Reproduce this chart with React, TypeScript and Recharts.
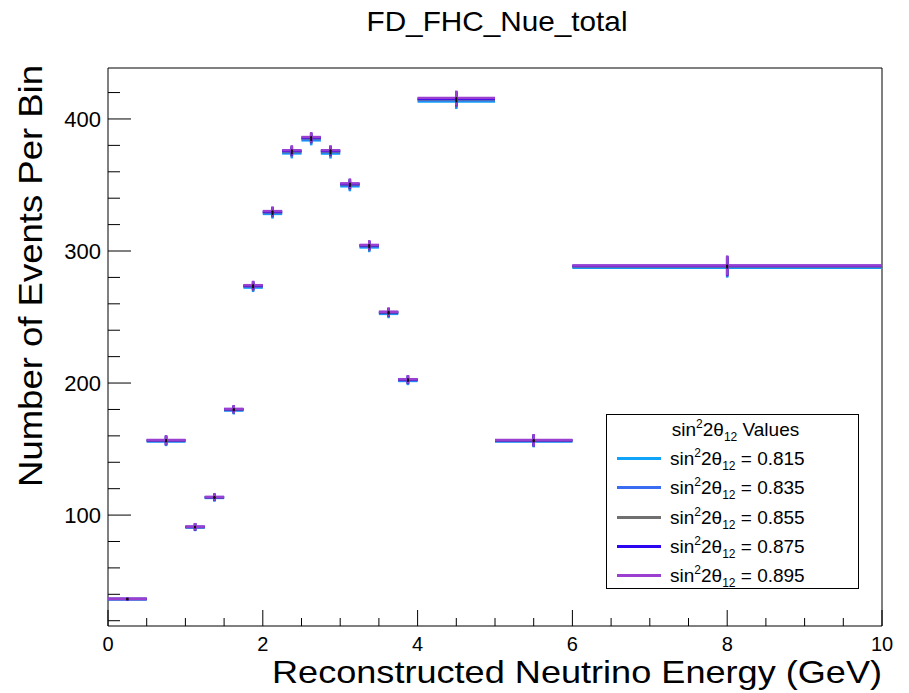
import { ComposedChart, Scatter, ErrorBar, XAxis, YAxis, ReferenceArea } from "recharts";

const FONT = "'Liberation Sans', Arial, Helvetica, sans-serif";

const BIN_EDGES = [0, 0.5, 1, 1.25, 1.5, 1.75, 2, 2.25, 2.5, 2.75, 3, 3.25, 3.5, 3.75, 4, 5, 6, 10];

const VALUES_0815 = [36.3, 155.8, 90.6, 113.0, 179.2, 272.3, 328.1, 373.9, 383.8, 373.8, 349.0, 302.7, 252.4, 201.6, 413.2, 155.8, 287.3];
const VALUES_0835 = [36.4, 156.1, 90.8, 113.2, 179.6, 272.9, 328.8, 374.7, 384.6, 374.7, 349.8, 303.4, 253.0, 202.0, 414.1, 156.1, 287.9];
const VALUES_0855 = [36.5, 156.5, 91.0, 113.5, 180.0, 273.5, 329.5, 375.5, 385.5, 375.5, 350.5, 304.0, 253.5, 202.5, 415.0, 156.5, 288.5];
const VALUES_0875 = [36.5, 156.7, 91.1, 113.6, 180.2, 273.8, 329.8, 375.9, 385.9, 375.9, 350.8, 304.3, 253.7, 202.7, 415.4, 156.7, 288.8];
const VALUES_0895 = [36.6, 156.8, 91.2, 113.7, 180.4, 274.1, 330.2, 376.3, 386.3, 376.3, 351.2, 304.6, 254.0, 202.9, 415.8, 156.9, 289.1];

const ERRORS = [1.2, 3.6, 2.8, 2.8, 3.0, 3.4, 3.6, 3.8, 3.8, 3.8, 3.8, 3.6, 3.3, 3.2, 5.7, 4.5, 7.5];

const SERIES_NAMES = ["0.815", "0.835", "0.855", "0.875", "0.895"];
const SERIES_VALUES = [VALUES_0815, VALUES_0835, VALUES_0855, VALUES_0875, VALUES_0895];
const SERIES_COLORS = ["#10a4f8", "#3a6cf2", "#6f6f6f", "#2c06f0", "#9a3fd0"];

const X_TICKS = [0, 0.5, 1, 1.5, 2, 2.5, 3, 3.5, 4, 4.5, 5, 5.5, 6, 6.5, 7, 7.5, 8, 8.5, 9, 9.5, 10];
const Y_TICKS = [20, 40, 60, 80, 100, 120, 140, 160, 180, 200, 220, 240, 260, 280, 300, 320, 340, 360, 380, 400, 420];
const Y_MIN = 16;
const Y_MAX = 438.6;

function binData(values: number[]) {
  return values.map((v, i) => ({
    x: (BIN_EDGES[i] + BIN_EDGES[i + 1]) / 2,
    y: v,
    ex: (BIN_EDGES[i + 1] - BIN_EDGES[i]) / 2,
    ey: ERRORS[i],
  }));
}

function XTick(props: any) {
  const { x, y, payload } = props;
  const major = payload.value % 2 === 0;
  return (
    <g>
      <line x1={x} y1={y} x2={x} y2={y - (major ? 16 : 8)} stroke="#000" strokeWidth={1} />
      {major && (
        <text x={x} y={y + 25} textAnchor="middle" fontSize={20} fontFamily={FONT} fill="#000">{payload.value}</text>
      )}
    </g>
  );
}

function YTick(props: any) {
  const { x, y, payload } = props;
  const major = payload.value % 100 === 0;
  return (
    <g>
      <line x1={x} y1={y} x2={x + (major ? 23 : 12)} y2={y} stroke="#000" strokeWidth={1} />
      {major && (
        <text x={x - 7} y={y + 8} textAnchor="end" fontSize={22} fontFamily={FONT} fill="#000">{payload.value}</text>
      )}
    </g>
  );
}

function SinLabel({ value }: { value?: string }) {
  return (
    <span>
      sin<span style={{ fontSize: 12, position: "relative", top: -8 }}>2</span>2θ
      <span style={{ fontSize: 12, position: "relative", top: 5 }}>12</span>
      {value ? ` = ${value}` : " Values"}
    </span>
  );
}

export default function App() {
  return (
    <div style={{ position: "absolute", left: 0, top: 0, width: 909, height: 693, background: "#fff", fontFamily: FONT }}>
      <ComposedChart width={909} height={693} margin={{ top: 68, right: 27, bottom: 66, left: 107 }}>
        <XAxis dataKey="x" type="number" domain={[0, 10]} allowDataOverflow ticks={X_TICKS} interval={0}
          height={1} tickSize={0} tickMargin={0} tickLine={false} axisLine={false} tick={<XTick />} />
        <YAxis dataKey="y" type="number" domain={[Y_MIN, Y_MAX]} allowDataOverflow ticks={Y_TICKS} interval={0}
          width={1} tickSize={0} tickMargin={0} tickLine={false} axisLine={false} tick={<YTick />} />
        <ReferenceArea x1={0} x2={10} y1={Y_MIN} y2={Y_MAX} fill="none" stroke="#000" strokeWidth={1} ifOverflow="visible" />
        {SERIES_VALUES.map((vals, i) => (
          <Scatter key={SERIES_NAMES[i]} data={binData(vals)} isAnimationActive={false}
            shape={(p: any) => <circle cx={p.cx} cy={p.cy} r={1} fill="#111" />}>
            <ErrorBar dataKey="ex" direction="x" width={0} stroke={SERIES_COLORS[i]} strokeWidth={2.5} isAnimationActive={false} />
            <ErrorBar dataKey="ey" direction="y" width={0} stroke={SERIES_COLORS[i]} strokeWidth={2.5} isAnimationActive={false} />
          </Scatter>
        ))}
      </ComposedChart>

      <svg width={909} height={693} style={{ position: "absolute", left: 0, top: 0, pointerEvents: "none" }}>
        <text x={497} y={31} textAnchor="middle" fontSize={28} fontFamily={FONT} fill="#000"
          textLength={261} lengthAdjust="spacingAndGlyphs">FD_FHC_Nue_total</text>
        <text x={882} y={683} textAnchor="end" fontSize={32} fontFamily={FONT} fill="#000"
          textLength={610} lengthAdjust="spacingAndGlyphs">Reconstructed Neutrino Energy (GeV)</text>
        <text x={42} y={65} transform="rotate(-90, 42, 65)" textAnchor="end" fontSize={34} fontFamily={FONT} fill="#000"
          textLength={422} lengthAdjust="spacingAndGlyphs">Number of Events Per Bin</text>
      </svg>

      <div style={{ position: "absolute", left: 606, top: 414, width: 251, height: 173, border: "1px solid #000", background: "#fff", fontSize: 19, color: "#000" }}>
        <div style={{ height: 29.2, lineHeight: "29.2px", textAlign: "center", paddingLeft: 6 }}>
          <SinLabel />
        </div>
        {SERIES_NAMES.map((name, i) => (
          <div key={name} style={{ height: 29.2, lineHeight: "29.2px", position: "relative" }}>
            <span style={{ position: "absolute", left: 10, top: 13, width: 44, height: 3, background: SERIES_COLORS[i] }} />
            <span style={{ position: "absolute", left: 63, top: 0 }}>
              <SinLabel value={name} />
            </span>
          </div>
        ))}
      </div>
    </div>
  );
}
